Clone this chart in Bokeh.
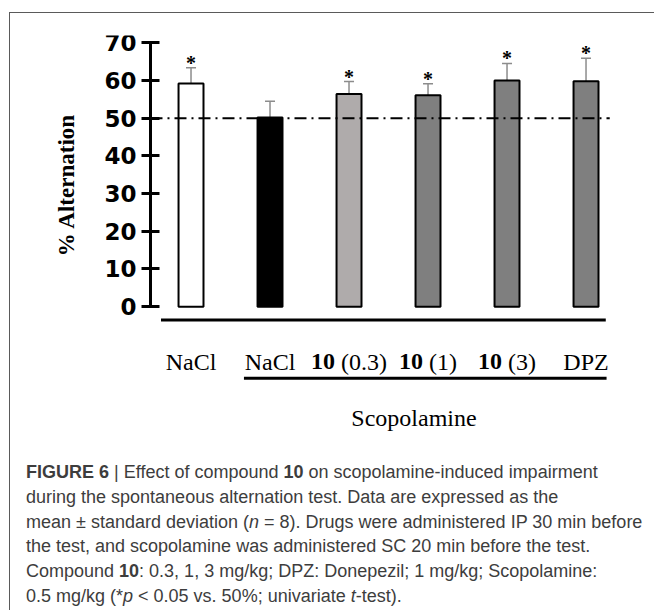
import math
from bokeh.plotting import figure
from bokeh.models import (ColumnDataSource, Range1d, FixedTicker, Whisker, TeeHead, Div,
                          LinearAxis)
from bokeh.layouts import column
from bokeh.core.properties import value
from bokeh.embed import file_html
from bokeh.resources import INLINE

# ---------------- data ----------------
label_bold = ["", "", "10", "10", "10", ""]
label_rest = ["NaCl", "NaCl", "(0.3)", "(1)", "(3)", "DPZ"]
means = [59.2, 50.2, 56.4, 56.1, 60.0, 59.8]
sds = [4.2, 4.3, 3.3, 3.0, 4.5, 6.1]
stars = ["*", "", "*", "*", "*", "*"]
y_ticks = [0, 10, 20, 30, 40, 50, 60, 70]
chance_level = 50
group_title = "Scopolamine"
y_title = "% Alternation"
scopolamine_first = 1  # index of first scopolamine-treated group

# ---------------- styles ----------------
bar_colors = ["#ffffff", "#000000", "#afabab", "#7f7f7f", "#7f7f7f", "#7f7f7f"]
SERIF = "Liberation Serif"
LAB_FS = 24

# Times-compatible advance widths (em) for centring the mixed bold/regular labels
REG_W = {"N": .722, "a": .444, "C": .667, "l": .278, "D": .722, "P": .556, "Z": .611,
         "(": .333, ")": .333, ".": .25, " ": .25}
REG_W.update({str(d): .5 for d in range(10)})
BOLD_W = {str(d): .5 for d in range(10)}


def text_w(s, table):
    return sum(table[c] for c in s) * LAB_FS


xs = [i + 1 for i in range(len(means))]
upper = [m + s for m, s in zip(means, sds)]
bold_off, rest_off = [], []
for b, r in zip(label_bold, label_rest):
    wb = text_w(b, BOLD_W)
    gap = 0.25 * LAB_FS if b else 0
    wr = text_w(r, REG_W)
    T = wb + gap + wr
    bold_off.append(-T / 2 + wb)
    rest_off.append(-T / 2 + wb + gap)

src = ColumnDataSource(dict(x=xs, mean=means, upper=upper, color=bar_colors, star=stars,
                            bold=label_bold, rest=label_rest, boff=bold_off, roff=rest_off))

AXIS_X = 0.487  # where the value axis crosses (just left of the first bar)

p = figure(width=636, height=440, output_backend="svg", toolbar_location=None,
           x_range=Range1d(-1.285, 6.563), y_range=Range1d(-34.69, 71.92),
           y_axis_location=None, x_axis_location=None,
           min_border_left=0, min_border_right=16, min_border_top=22, min_border_bottom=16)
p.outline_line_color = None
p.grid.visible = False
p.background_fill_color = "white"
p.border_fill_color = "white"

yax = LinearAxis(fixed_location=AXIS_X)
yax.ticker = FixedTicker(ticks=y_ticks)
yax.bounds = (y_ticks[0], y_ticks[-1])
yax.axis_line_width = 3
yax.major_tick_line_width = 3
yax.major_tick_in = 9
yax.major_tick_out = 9
yax.minor_tick_line_color = None
yax.major_label_text_font = "DejaVu Sans"
yax.major_label_text_font_style = "bold"
yax.major_label_text_font_size = "23px"
yax.major_label_text_color = "black"
yax.major_label_standoff = 5
p.add_layout(yax, "left")

# y-axis title
p.text(x=[-0.57], y=[(y_ticks[0] + y_ticks[-1]) / 2 - 2.7], text=[y_title],
       angle=math.pi / 2, text_align="center", text_baseline="middle",
       text_font=value(SERIF), text_font_style="bold", text_font_size="23px",
       text_color="black")

# bars
p.vbar(x="x", top="mean", bottom=0, width=0.316, source=src,
       fill_color="color", line_color="black", line_width=2)

# error bars (upper only)
err_col = "#8c8c8c"
p.add_layout(Whisker(base="x", upper="upper", lower="mean", source=src,
                     line_color=err_col, line_width=1.5, lower_head=None,
                     upper_head=TeeHead(size=10, line_color=err_col, line_width=1.5)))

# 50 % reference line
p.line(x=[AXIS_X, 6.3], y=[chance_level, chance_level], line_color="black",
       line_width=2, line_dash="12 5 2 5")

# significance stars
p.text(x="x", y="upper", text="star", source=src, text_align="center",
       text_baseline="alphabetic", y_offset=-5, text_font=value(SERIF),
       text_font_style="bold", text_font_size="20px", text_color="black")

# bracket lines and group labels
base_y = -3.5
p.line(x=[xs[0] - 0.38, xs[-1] + 0.25], y=[base_y, base_y], line_color="black", line_width=3)
lab_y = -14.66
p.text(x="x", y=lab_y, text="bold", source=src, x_offset="boff", text_align="right",
       text_baseline="alphabetic", text_font=value(SERIF), text_font_style="bold",
       text_font_size=f"{LAB_FS}px", text_color="black")
p.text(x="x", y=lab_y, text="rest", source=src, x_offset="roff", text_align="left",
       text_baseline="alphabetic", text_font=value(SERIF),
       text_font_size=f"{LAB_FS}px", text_color="black")
scop_y = -19.0
p.line(x=[xs[scopolamine_first] - 0.33, xs[-1] + 0.26], y=[scop_y, scop_y],
       line_color="black", line_width=3)
scop_x = sum(xs[scopolamine_first:]) / len(xs[scopolamine_first:])
p.text(x=[scop_x], y=[-29.4], text=[group_title], x_offset=-14, text_align="center",
       text_baseline="alphabetic", text_font=value(SERIF),
       text_font_size=f"{LAB_FS}px", text_color="black")

caption_html = (
    '<div style="font-family: \'Liberation Sans\', Arial, sans-serif; font-size: 18px; '
    'line-height: 24.8px; color: #3d3d3d; white-space: nowrap; padding-left: 11px; padding-top: 2px;">'
    '<b>FIGURE 6</b> | Effect of compound <b>10</b> on scopolamine-induced impairment<br>'
    'during the spontaneous alternation test. Data are expressed as the<br>'
    'mean &plusmn; standard deviation (<i>n</i> = 8). Drugs were administered IP 30 min before<br>'
    'the test, and scopolamine was administered SC 20 min before the test.<br>'
    'Compound <b>10</b>: 0.3, 1, 3 mg/kg; DPZ: Donepezil; 1 mg/kg; Scopolamine:<br>'
    '0.5 mg/kg (*<i>p</i> &lt; 0.05 vs. 50%; univariate <i>t</i>-test).'
    '</div>'
)
caption = Div(text=caption_html, width=636, height=150)

layout = column(p, caption, styles={"border-left": "1.5px solid #5a5a5a",
                                    "border-top": "1.5px solid #5a5a5a",
                                    "margin-left": "9px", "margin-top": "12px"})

open("out.html", "w").write(file_html(layout, INLINE))
